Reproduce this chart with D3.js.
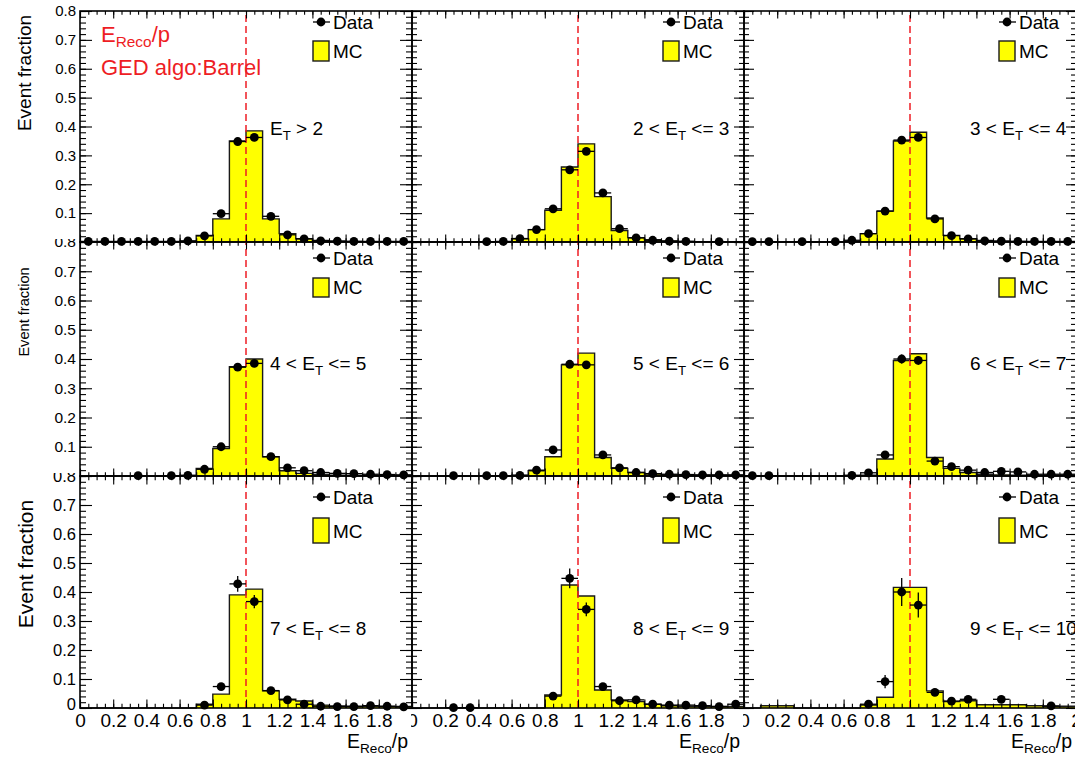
<!DOCTYPE html>
<html>
<head>
<meta charset="utf-8">
<script src="https://cdn.jsdelivr.net/npm/d3@7"></script>
<style>
  html, body { margin: 0; padding: 0; background: #fff; }
  svg { display: block; font-family: "Liberation Sans", Arial, Helvetica, sans-serif; }
</style>
</head>
<body>
<svg id="chart" width="1075" height="760"></svg>
<script>
// ---- binning of E_Reco/p: 20 bins of width 0.1 on [0, 2] ----
const binEdges = [0, 0.1, 0.2, 0.3, 0.4, 0.5, 0.6, 0.7, 0.8, 0.9, 1.0,
                  1.1, 1.2, 1.3, 1.4, 1.5, 1.6, 1.7, 1.8, 1.9, 2.0];

// ---- axis ticks ----
const xTickValues = [0, 0.2, 0.4, 0.6, 0.8, 1, 1.2, 1.4, 1.6, 1.8, 2];
const xTickLabels = ["0", "0.2", "0.4", "0.6", "0.8", "1", "1.2", "1.4", "1.6", "1.8", "2"];
const yTickValues = [0, 0.1, 0.2, 0.3, 0.4, 0.5, 0.6, 0.7, 0.8];
const yTickLabels = ["0", "0.1", "0.2", "0.3", "0.4", "0.5", "0.6", "0.7", "0.8"];

// ---- E_T bins (label pieces around the E_T symbol) ----
const etPrefix = ["", "2 < ", "3 < ", "4 < ", "5 < ", "6 < ", "7 < ", "8 < ", "9 < "];
const etSuffix = [" > 2", " <= 3", " <= 4", " <= 5", " <= 6", " <= 7", " <= 8", " <= 9", " <= 10"];

// ---- event fractions per bin: MC histogram, data points (null = empty bin), data errors ----
const mcEtAll   = [0, 0, 0, 0, 0, 0, 0.002, 0.023, 0.080, 0.350, 0.385, 0.080, 0.029, 0.011, 0.005, 0.003, 0.002, 0.001, 0.001, 0.001];
const dataEtAll = [0.002, 0.002, 0.002, 0.002, 0.002, 0.002, 0.004, 0.021, 0.098, 0.348, 0.362, 0.089, 0.025, 0.011, 0.004, 0.003, 0.002, 0.002, 0.002, 0.002];
const errEtAll  = [0.001, 0.001, 0.001, 0.001, 0.001, 0.001, 0.001, 0.002, 0.003, 0.005, 0.005, 0.003, 0.002, 0.001, 0.001, 0.001, 0.001, 0.001, 0.001, 0.001];

const mcEt2to3   = [0, 0, 0, 0, 0, 0, 0.011, 0.043, 0.110, 0.260, 0.340, 0.157, 0.040, 0.015, 0.008, 0.004, 0.002, 0.001, 0.001, 0.001];
const dataEt2to3 = [null, null, null, null, 0.001, 0.002, 0.012, 0.043, 0.115, 0.250, 0.314, 0.170, 0.046, 0.014, 0.006, 0.003, 0.002, null, 0.001, null];
const errEt2to3  = [0, 0, 0, 0, 0.001, 0.001, 0.002, 0.003, 0.005, 0.007, 0.008, 0.006, 0.003, 0.002, 0.001, 0.001, 0.001, 0, 0.001, 0];

const mcEt3to4   = [0, 0, 0, 0, 0, 0, 0.002, 0.029, 0.107, 0.350, 0.380, 0.083, 0.023, 0.011, 0.005, 0.003, 0.002, 0.001, 0.001, 0.001];
const dataEt3to4 = [0.001, 0.001, null, 0.001, null, 0.001, 0.006, 0.029, 0.107, 0.353, 0.362, 0.080, 0.022, 0.011, 0.004, 0.003, 0.002, 0.002, 0.002, 0.002];
const errEt3to4  = [0.001, 0.001, 0, 0.001, 0, 0.001, 0.001, 0.003, 0.005, 0.008, 0.008, 0.004, 0.002, 0.002, 0.001, 0.001, 0.001, 0.001, 0.001, 0.001];

const mcEt4to5   = [0, 0, 0, 0, 0, 0, 0.002, 0.026, 0.094, 0.374, 0.400, 0.066, 0.018, 0.009, 0.005, 0.003, 0.002, 0.002, 0.001, 0.001];
const dataEt4to5 = [null, null, null, 0.001, null, 0.001, 0.002, 0.023, 0.100, 0.372, 0.385, 0.066, 0.028, 0.018, 0.012, 0.009, 0.008, 0.006, 0.005, 0.004];
const errEt4to5  = [0, 0, 0, 0.001, 0, 0.001, 0.001, 0.003, 0.006, 0.010, 0.010, 0.005, 0.003, 0.003, 0.002, 0.002, 0.002, 0.002, 0.002, 0.002];

const mcEt5to6   = [0, 0, 0, 0, 0, 0, 0.003, 0.018, 0.066, 0.380, 0.420, 0.063, 0.026, 0.012, 0.007, 0.004, 0.003, 0.002, 0.002, 0.002];
const dataEt5to6 = [null, null, 0.001, null, 0.001, 0.001, 0.002, 0.020, 0.089, 0.382, 0.380, 0.072, 0.028, 0.012, 0.008, 0.006, 0.005, 0.004, 0.004, 0.004];
const errEt5to6  = [0, 0, 0.001, 0, 0.001, 0.001, 0.001, 0.003, 0.006, 0.012, 0.012, 0.006, 0.004, 0.003, 0.002, 0.002, 0.002, 0.002, 0.002, 0.002];

const mcEt6to7   = [0, 0, 0, 0, 0, 0, 0.002, 0.003, 0.058, 0.395, 0.418, 0.063, 0.026, 0.012, 0.006, 0.004, 0.003, 0.002, 0.002, 0.002];
const dataEt6to7 = [0.001, 0.001, null, null, null, null, 0.002, 0.011, 0.072, 0.400, 0.395, 0.051, 0.032, 0.020, 0.012, 0.016, 0.014, 0.006, 0.006, 0.006];
const errEt6to7  = [0.001, 0.001, 0, 0, 0, 0, 0.001, 0.003, 0.007, 0.015, 0.015, 0.005, 0.004, 0.003, 0.003, 0.003, 0.003, 0.002, 0.002, 0.002];

const mcEt7to8   = [0, 0, 0, 0, 0, 0, 0, 0.013, 0.048, 0.390, 0.410, 0.059, 0.030, 0.024, 0.010, 0.007, 0.006, 0.006, 0.005, 0.005];
const dataEt7to8 = [null, null, null, null, null, null, null, 0.010, 0.074, 0.428, 0.367, 0.060, 0.028, 0.013, 0.006, 0.005, 0.005, 0.008, 0.006, 0.004];
const errEt7to8  = [0, 0, 0, 0, 0, 0, 0, 0.004, 0.011, 0.027, 0.023, 0.008, 0.005, 0.004, 0.003, 0.003, 0.003, 0.003, 0.003, 0.003];

const mcEt8to9   = [0, 0, 0, 0, 0, 0, 0, 0, 0.045, 0.424, 0.386, 0.062, 0.028, 0.022, 0.013, 0.008, 0.006, 0.005, 0.005, 0.005];
const dataEt8to9 = [null, null, 0.001, 0.001, null, null, null, null, 0.041, 0.447, 0.340, 0.074, 0.025, 0.028, 0.013, 0.010, 0.010, 0.008, 0.005, 0.013];
const errEt8to9  = [0, 0, 0.001, 0.001, 0, 0, 0, 0, 0.009, 0.034, 0.024, 0.010, 0.005, 0.005, 0.004, 0.003, 0.003, 0.003, 0.003, 0.004];

const mcEt9to10   = [0, 0.008, 0.008, 0, 0, 0, 0, 0.010, 0.037, 0.416, 0.416, 0.059, 0.022, 0.025, 0.011, 0.011, 0.011, 0.008, 0.006, 0.006];
const dataEt9to10 = [null, null, null, null, null, null, null, 0.013, 0.091, 0.400, 0.355, 0.054, 0.024, 0.030, null, 0.030, null, null, 0.007, null];
const errEt9to10  = [0, 0, 0, 0, 0, 0, 0, 0.005, 0.023, 0.048, 0.043, 0.012, 0.008, 0.008, 0, 0.008, 0, 0, 0.005, 0];

const mcSeries   = [mcEtAll, mcEt2to3, mcEt3to4, mcEt4to5, mcEt5to6, mcEt6to7, mcEt7to8, mcEt8to9, mcEt9to10];
const dataSeries = [dataEtAll, dataEt2to3, dataEt3to4, dataEt4to5, dataEt5to6, dataEt6to7, dataEt7to8, dataEt8to9, dataEt9to10];
const errSeries  = [errEtAll, errEt2to3, errEt3to4, errEt4to5, errEt5to6, errEt6to7, errEt7to8, errEt8to9, errEt9to10];

// ---- layout of the 3x3 grid of frames ----
const colFrame = [[80, 412], [412, 744], [744, 1076]];
const rowFrame = [[11, 242], [242, 476], [476, 708]];
const yTickLen = [12, 10, 10];       // per column
const xTickLen = [7.5, 7.5, 8.5];    // per row
const yLabelSize = [15, 15.5, 16.5]; // per row
const yTitle = [ {size: 19, x: 31, y: 73}, {size: 14.6, x: 29, y: 312}, {size: 21, x: 33, y: 564} ];
const legendTextX = [333, 683, 1019];
const legendRow = [ {data: 22, box: [41, 61], mc: 51}, {data: 258, box: [278, 297], mc: 287}, {data: 497, box: [518, 543], mc: 531} ];
const etLabelX = [270, 633, 970];
const etLabelY = [128, 363, 628];

const RED = "#ee1d24";
const YELLOW = "#ffff00";
const FONT_SIZE_TEXT = 19;

const svg = d3.select("#chart");
const defs = svg.append("defs");

// clip rectangles are given in page coordinates and applied on untransformed groups
function addClip(id, x, y, w, h) {
  defs.append("clipPath").attr("id", id).attr("clipPathUnits", "userSpaceOnUse")
    .append("rect").attr("x", x).attr("y", y).attr("width", w).attr("height", h);
  return `url(#${id})`;
}

for (let r = 0; r < 3; r++) {
  for (let c = 0; c < 3; c++) {
    const i = r * 3 + c;
    const [x0, x1] = colFrame[c];
    const [y0, y1] = rowFrame[r];
    const x = d3.scaleLinear().domain([0, 2]).range([x0, x1]);
    const y = d3.scaleLinear().domain([0, 0.8]).range([y1, y0]);
    const g = svg.append("g").attr("class", `pad pad${i}`);

    const mc = mcSeries[i];
    const data = dataSeries[i];
    const err = errSeries[i];

    // MC histogram: yellow step fill with dark outline
    const stepPts = mc.map((v, k) => [binEdges[k], v]);
    stepPts.push([binEdges[20], mc[19]]);
    g.append("path")
      .attr("d", d3.area().curve(d3.curveStepAfter)
        .x(d => x(d[0])).y0(y(0)).y1(d => y(d[1]))(stepPts))
      .attr("fill", YELLOW).attr("stroke", "none");
    const outline = [[binEdges[0], 0]].concat(stepPts).concat([[binEdges[20], 0]]);
    g.append("path")
      .attr("d", d3.line().x(d => x(d[0])).y(d => y(d[1]))(
        // expand the step into explicit corners
        outline.reduce((acc, p, k) => {
          if (k > 0) acc.push([p[0], acc[acc.length - 1][1]]);
          acc.push(p);
          return acc;
        }, [])
      ))
      .attr("fill", "none").attr("stroke", "#1a1a1a").attr("stroke-width", 1.4);

    // reference line at E_Reco/p = 1
    g.append("line")
      .attr("x1", x(1)).attr("x2", x(1)).attr("y1", y(0)).attr("y2", y(0.8))
      .attr("stroke", RED).attr("stroke-width", 1.5).attr("stroke-dasharray", "7,4");

    // data points with bin-width and statistical error bars
    const pts = data.map((v, k) => ({ lo: binEdges[k], hi: binEdges[k + 1], v, e: err[k] }))
      .filter(d => d.v !== null);
    const pg = g.append("g").attr("class", "data");
    pg.selectAll("line.hbar").data(pts).join("line").attr("class", "hbar")
      .attr("x1", d => x(d.lo)).attr("x2", d => x(d.hi))
      .attr("y1", d => y(d.v)).attr("y2", d => y(d.v))
      .attr("stroke", "#000").attr("stroke-width", 1.3);
    pg.selectAll("line.vbar").data(pts).join("line").attr("class", "vbar")
      .attr("x1", d => x((d.lo + d.hi) / 2)).attr("x2", d => x((d.lo + d.hi) / 2))
      .attr("y1", d => y(Math.max(0, d.v - d.e))).attr("y2", d => y(d.v + d.e))
      .attr("stroke", "#000").attr("stroke-width", 1.3);
    pg.selectAll("circle").data(pts).join("circle")
      .attr("cx", d => x((d.lo + d.hi) / 2)).attr("cy", d => y(d.v)).attr("r", 4.4)
      .attr("fill", "#000");

    // ticks on all four sides, pointing inward
    const tickStyle = sel => {
      sel.select(".domain").remove();
      sel.selectAll("line").attr("stroke", "#000").attr("stroke-width", 1.1);
      sel.selectAll("text").remove();
    };
    const tl = yTickLen[c], xl = xTickLen[r];
    g.append("g").attr("transform", `translate(0,${y1})`)
      .call(d3.axisBottom(x).tickValues(x.ticks(40)).tickSize(-xl / 2)).call(tickStyle);
    g.append("g").attr("transform", `translate(0,${y1})`)
      .call(d3.axisBottom(x).tickValues(xTickValues).tickSize(-xl)).call(tickStyle);
    g.append("g").attr("transform", `translate(0,${y0})`)
      .call(d3.axisTop(x).tickValues(x.ticks(40)).tickSize(-xl / 2)).call(tickStyle);
    g.append("g").attr("transform", `translate(0,${y0})`)
      .call(d3.axisTop(x).tickValues(xTickValues).tickSize(-xl)).call(tickStyle);
    g.append("g").attr("transform", `translate(${x0},0)`)
      .call(d3.axisLeft(y).tickValues(y.ticks(40)).tickSize(-tl / 2)).call(tickStyle);
    g.append("g").attr("transform", `translate(${x0},0)`)
      .call(d3.axisLeft(y).tickValues(yTickValues).tickSize(-tl)).call(tickStyle);
    g.append("g").attr("transform", `translate(${x1},0)`)
      .call(d3.axisRight(y).tickValues(y.ticks(40)).tickSize(-tl / 2)).call(tickStyle);
    g.append("g").attr("transform", `translate(${x1},0)`)
      .call(d3.axisRight(y).tickValues(yTickValues).tickSize(-tl)).call(tickStyle);

    // frame
    g.append("rect").attr("x", x0).attr("y", y0).attr("width", x1 - x0).attr("height", y1 - y0)
      .attr("fill", "none").attr("stroke", "#000").attr("stroke-width", 1.6);

    // y tick labels on the left column
    if (c === 0) {
      const shown = r === 2 ? yTickValues : yTickValues.filter(v => v > 0);
      const holder = g.append("g");
      if (r > 0) holder.attr("clip-path", addClip(`ylab${r}`, 0, y0 - 3, 80, y1 - y0 + 6));
      const yl = holder.append("g").attr("transform", `translate(${x0},0)`)
        .call(d3.axisLeft(y).tickValues(shown).tickSize(0).tickPadding(4)
          .tickFormat(v => yTickLabels[yTickValues.indexOf(v)]));
      yl.select(".domain").remove();
      yl.selectAll("text").attr("font-size", yLabelSize[r])
        .attr("font-family", "Liberation Sans, Arial, sans-serif").attr("fill", "#000");
      if (r === 2) yl.selectAll("text").filter(v => v === 0).attr("dy", "0.12em");

      // y axis title
      g.append("text")
        .attr("transform", `translate(${yTitle[r].x},${yTitle[r].y}) rotate(-90)`)
        .attr("text-anchor", "middle").attr("font-size", yTitle[r].size)
        .text("Event fraction");
    }

    // x tick labels and title on the bottom row
    if (r === 2) {
      const shown = c === 2 ? xTickValues : xTickValues.filter(v => v < 2);
      const holder = g.append("g");
      if (c > 0) holder.attr("clip-path", addClip(`xlab${c}`, x0 - 1, y1, x1 - x0 + 10, 60));
      const xlab = holder.append("g").attr("transform", `translate(0,${y1})`)
        .call(d3.axisBottom(x).tickValues(shown).tickSize(0).tickPadding(6)
          .tickFormat(v => xTickLabels[xTickValues.indexOf(v)]));
      xlab.select(".domain").remove();
      xlab.selectAll("text").attr("font-size", 19)
        .attr("font-family", "Liberation Sans, Arial, sans-serif").attr("fill", "#000");

      const t = g.append("text").attr("x", x1 - 4).attr("y", 748)
        .attr("text-anchor", "end").attr("font-size", 19.5);
      t.append("tspan").text("E");
      t.append("tspan").attr("font-size", 13.6).attr("dy", 5).text("Reco");
      t.append("tspan").attr("dy", -5).text("/p");
    }

    // legend
    const lx = legendTextX[c];
    const lr = legendRow[r];
    g.append("line").attr("x1", lx - 20).attr("x2", lx - 3).attr("y1", lr.data).attr("y2", lr.data)
      .attr("stroke", "#000").attr("stroke-width", 1.3);
    g.append("circle").attr("cx", lx - 12).attr("cy", lr.data).attr("r", 4.4).attr("fill", "#000");
    g.append("text").attr("x", lx).attr("y", lr.data).attr("dy", "0.36em")
      .attr("font-size", FONT_SIZE_TEXT).text("Data");
    g.append("rect").attr("x", lx - 20).attr("y", lr.box[0]).attr("width", 16)
      .attr("height", lr.box[1] - lr.box[0])
      .attr("fill", YELLOW).attr("stroke", "#1a1a1a").attr("stroke-width", 1.4);
    g.append("text").attr("x", lx).attr("y", lr.mc).attr("dy", "0.36em")
      .attr("font-size", FONT_SIZE_TEXT).text("MC");

    // E_T range label
    const et = g.append("text").attr("x", etLabelX[c]).attr("y", etLabelY[r]).attr("dy", "0.36em")
      .attr("font-size", FONT_SIZE_TEXT).style("white-space", "pre");
    et.append("tspan").text(etPrefix[i] + "E");
    et.append("tspan").attr("font-size", 13.3).attr("dy", 5).text("T");
    et.append("tspan").attr("dy", -5).text(etSuffix[i]);
  }
}

// header text in the first pad
const head = svg.append("g").attr("fill", RED).attr("font-size", 22);
const h1 = head.append("text").attr("x", 101).attr("y", 42);
h1.append("tspan").text("E");
h1.append("tspan").attr("font-size", 15.4).attr("dy", 5).text("Reco");
h1.append("tspan").attr("dy", -5).text("/p");
head.append("text").attr("x", 101).attr("y", 75).text("GED algo:Barrel");
</script>
</body>
</html>
